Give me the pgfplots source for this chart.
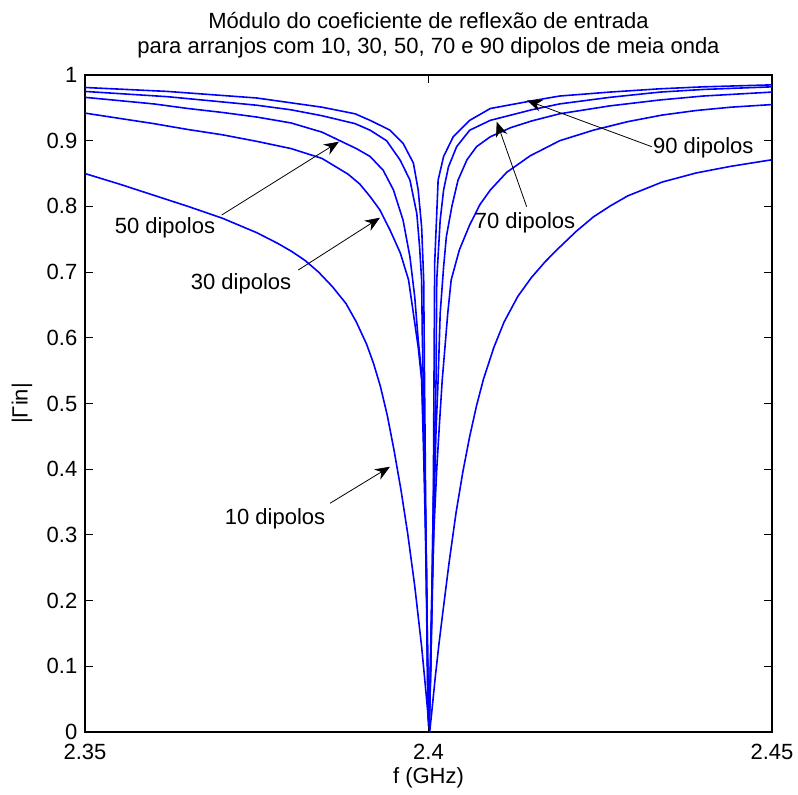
\documentclass[border=0pt]{standalone}
\usepackage{fontspec}
\setmainfont{Liberation Sans}
\usepackage{pgfplots}
\pgfplotsset{compat=1.18}
\usetikzlibrary{arrows.meta}
\definecolor{mblue}{RGB}{0,0,255}
\tikzset{curve/.style={mblue, line width=0.8pt, mark=none}}

\begin{document}
\fontsize{11}{13}\selectfont
\begin{tikzpicture}
\begin{axis}[
  scale only axis,
  width=343.5pt, height=328.5pt,
  xmin=2.35, xmax=2.45, ymin=0, ymax=1,
  xtick={2.35,2.4,2.45},
  xticklabels={2.35,2.4,2.45},
  ytick={0,0.1,0.2,0.3,0.4,0.5,0.6,0.7,0.8,0.9,1},
  yticklabels={0,0.1,0.2,0.3,0.4,0.5,0.6,0.7,0.8,0.9,1},
  tick align=inside,
  major tick length=3.8pt,
  tick style={black, line width=0.5pt},
  axis line style={black, line width=0.6pt},
  ticklabel style={font=\fontsize{11}{13}\selectfont},
  xticklabel style={yshift=-2pt},
  xlabel={f (GHz)},
  ylabel={|Γin|},
  xlabel style={at={(axis description cs:0.5,-0.07)}, anchor=center, font=\fontsize{11}{13}\selectfont},
  ylabel style={at={(axis description cs:-0.0917,0.5)}, anchor=center, font=\fontsize{11}{13}\selectfont},
  title={Módulo do coeficiente de reflexão de entrada\\para arranjos com 10, 30, 50, 70 e 90 dipolos de meia onda},
  title style={at={(axis description cs:0.5,1)}, anchor=south, yshift=-1.5pt, align=center, font=\fontsize{11}{12.5}\selectfont},
]
% 10 dipolos
\addplot[curve] coordinates {
(2.3500,0.850) (2.3550,0.834) (2.3600,0.817) (2.3650,0.800) (2.3700,0.782)
(2.3750,0.760) (2.3780,0.744) (2.3800,0.732) (2.3820,0.718) (2.3840,0.700)
(2.3860,0.678) (2.3880,0.652) (2.3895,0.624) (2.3910,0.590) (2.3920,0.561)
(2.3930,0.526) (2.3940,0.482) (2.3950,0.428) (2.3960,0.368) (2.3970,0.300)
(2.3980,0.222) (2.3990,0.130) (2.3995,0.075) (2.4000,0.018) (2.4002,0.003)
(2.4005,0.033) (2.4010,0.085) (2.4015,0.132) (2.4020,0.175) (2.4030,0.258)
(2.4040,0.333) (2.4050,0.396) (2.4060,0.450) (2.4070,0.497) (2.4080,0.537)
(2.4095,0.585) (2.4110,0.624) (2.4130,0.663) (2.4150,0.692) (2.4170,0.716)
(2.4190,0.737) (2.4215,0.762) (2.4240,0.784) (2.4265,0.801) (2.4290,0.816)
(2.4340,0.837) (2.4390,0.851) (2.4440,0.861) (2.4500,0.871)
};
% 30 dipolos
\addplot[curve] coordinates {
(2.3500,0.942) (2.3550,0.934) (2.3600,0.926) (2.3650,0.917) (2.3700,0.909)
(2.3750,0.899) (2.3800,0.888) (2.3845,0.873) (2.3883,0.849) (2.3900,0.834)
(2.3915,0.815) (2.3929,0.795) (2.3944,0.764) (2.3959,0.729) (2.3971,0.688)
(2.3978,0.637) (2.3985,0.586) (2.3990,0.536) (2.3993,0.420) (2.3995,0.330)
(2.3997,0.220) (2.3999,0.100) (2.4000,0.030) (2.4001,0.010)
(2.4003,0.120) (2.4005,0.210) (2.4008,0.310) (2.4012,0.400) (2.4016,0.470)
(2.4020,0.536) (2.4024,0.586) (2.4028,0.637) (2.4033,0.688) (2.4045,0.734)
(2.4060,0.772) (2.4075,0.803) (2.4090,0.825) (2.4114,0.852) (2.4148,0.877)
(2.4191,0.900) (2.4240,0.916) (2.4290,0.929) (2.4340,0.939) (2.4390,0.946)
(2.4440,0.951) (2.4500,0.955)
};
% 50 dipolos
\addplot[curve] coordinates {
(2.3500,0.966) (2.3550,0.961) (2.3600,0.956) (2.3650,0.949) (2.3700,0.943)
(2.3750,0.936) (2.3800,0.927) (2.3845,0.913) (2.3875,0.898) (2.3895,0.888)
(2.3915,0.876) (2.3934,0.855) (2.3949,0.825) (2.3963,0.779) (2.3973,0.723)
(2.3980,0.662) (2.3985,0.597) (2.3990,0.546) (2.3993,0.450) (2.3995,0.360)
(2.3997,0.250) (2.3998,0.170) (2.3999,0.090) (2.4000,0.020) (2.4001,0.010)
(2.4003,0.090) (2.4005,0.180) (2.4007,0.280) (2.4009,0.380) (2.4011,0.460)
(2.4014,0.536) (2.4017,0.637) (2.4022,0.708) (2.4026,0.754) (2.4034,0.800)
(2.4043,0.840) (2.4056,0.871) (2.4070,0.891) (2.4090,0.906) (2.4120,0.920)
(2.4150,0.930) (2.4191,0.941) (2.4264,0.953) (2.4337,0.962) (2.4400,0.968)
(2.4500,0.974)
};
% 70 dipolos
\addplot[curve] coordinates {
(2.3500,0.975) (2.3620,0.967) (2.3750,0.954) (2.3800,0.947) (2.3845,0.938)
(2.3893,0.926) (2.3915,0.916) (2.3939,0.900) (2.3959,0.870) (2.3973,0.840)
(2.3983,0.789) (2.3987,0.739) (2.3990,0.688) (2.3991,0.602) (2.3993,0.500)
(2.3995,0.380) (2.3997,0.250) (2.3998,0.150) (2.3999,0.070) (2.4000,0.020)
(2.4001,0.010) (2.4003,0.100) (2.4005,0.220) (2.4007,0.350) (2.4009,0.450)
(2.4011,0.536) (2.4012,0.688) (2.4017,0.779) (2.4022,0.825) (2.4029,0.860)
(2.4041,0.891) (2.4060,0.916) (2.4090,0.931) (2.4150,0.947) (2.4191,0.956)
(2.4264,0.966) (2.4337,0.974) (2.4400,0.978) (2.4500,0.982)
};
% 90 dipolos
\addplot[curve] coordinates {
(2.3500,0.981) (2.3620,0.975) (2.3750,0.965) (2.3845,0.951) (2.3893,0.941)
(2.3915,0.931) (2.3944,0.916) (2.3963,0.896) (2.3978,0.866) (2.3985,0.825)
(2.3990,0.769) (2.3993,0.688) (2.3994,0.560) (2.3995,0.450) (2.3996,0.330)
(2.3997,0.220) (2.3998,0.120) (2.3999,0.040) (2.4000,0.010)
(2.4001,0.010) (2.4003,0.080) (2.4005,0.200) (2.4007,0.360) (2.4008,0.536)
(2.4009,0.714) (2.4012,0.789) (2.4014,0.840) (2.4022,0.876) (2.4036,0.906)
(2.4060,0.931) (2.4090,0.949) (2.4152,0.961) (2.4191,0.968) (2.4264,0.974)
(2.4337,0.979) (2.4400,0.982) (2.4500,0.985)
};
% annotations
\begin{scope}[black, line width=0.4pt, -{Stealth[length=7.5pt,width=6pt]}]
\draw (axis cs:2.36990,0.7869) -- (axis cs:2.38697,0.8985);
\draw (axis cs:2.38105,0.7032) -- (axis cs:2.39294,0.7828);
\draw (axis cs:2.38566,0.3481) -- (axis cs:2.39440,0.4038);
\draw (axis cs:2.41429,0.7995) -- (axis cs:2.40993,0.9289);
\draw (axis cs:2.43249,0.8909) -- (axis cs:2.41434,0.9612);
\end{scope}
\node[font=\fontsize{11}{13}\selectfont] at (axis cs:2.36164,0.767) {50 dipolos};
\node[font=\fontsize{11}{13}\selectfont] at (axis cs:2.37271,0.682) {30 dipolos};
\node[font=\fontsize{11}{13}\selectfont] at (axis cs:2.37766,0.324) {10 dipolos};
\node[font=\fontsize{11}{13}\selectfont] at (axis cs:2.41405,0.775) {70 dipolos};
\node[font=\fontsize{11}{13}\selectfont] at (axis cs:2.44000,0.889) {90 dipolos};
\end{axis}
\pgfresetboundingbox
\useasboundingbox ([shift={(-42.5pt,-31pt)}]current axis.south west) rectangle ([shift={(13pt,37.5pt)}]current axis.north east);
\end{tikzpicture}
\end{document}
